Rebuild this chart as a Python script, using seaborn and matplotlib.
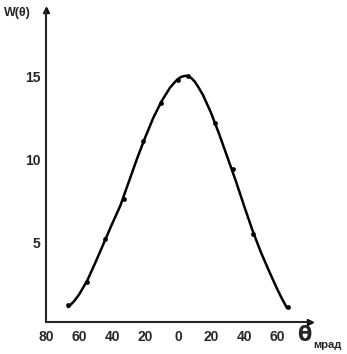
import numpy as np
import pandas as pd
import matplotlib
matplotlib.use("Agg")
import matplotlib.pyplot as plt
import seaborn as sns

# measured points (angle in mrad, W)
theta_pts = [-66.5, -55, -44, -33, -21, -10.5, 0, 6, 22.5, 33.5, 45.5, 66.5]
w_pts = [1.2, 2.6, 5.2, 7.6, 11.1, 13.4, 14.8, 15.0, 12.2, 9.4, 5.5, 1.1]

# smooth curve
theta_curve = [-66.5, -63, -60, -55, -50, -45, -40, -35, -30, -25, -20, -15,
               -10, -5, -2, 0, 2, 4, 6, 8, 10, 12, 15, 20, 25, 30, 35, 40,
               45, 50, 55, 60, 63, 66]
w_curve = [1.1, 1.45, 1.85, 2.7, 3.8, 4.95, 6.1, 7.2, 8.6, 10.0, 11.3, 12.5,
           13.5, 14.3, 14.65, 14.85, 14.97, 15.03, 15.02, 14.9, 14.7, 14.4,
           13.9, 12.8, 11.5, 10.1, 8.7, 7.2, 5.75, 4.45, 3.3, 2.2, 1.6, 1.05]

xtick_pos = [-80, -60, -40, -20, 0, 20, 40, 60]
xtick_lbl = ["80", "60", "40", "20", "0", "20", "40", "60"]
ytick_pos = [5, 10, 15]

sns.set_style("white")
plt.rcParams['font.family'] = ['Liberation Sans', 'DejaVu Sans']

fig = plt.figure(figsize=(3.47, 3.54), dpi=100)
ax = fig.add_axes([0.1326, 0.0904, 0.761, 0.8814])

df_curve = pd.DataFrame({"theta": theta_curve, "w": w_curve})
df_pts = pd.DataFrame({"theta": theta_pts, "w": w_pts})
sns.lineplot(data=df_curve, x="theta", y="w", color="black", lw=1.8, ax=ax, sort=False)
sns.scatterplot(data=df_pts, x="theta", y="w", color="black", s=10, ax=ax,
                edgecolor="black", zorder=3)

ax.set_xlim(-80, 80)
ax.set_ylim(0.2, 19)
sns.despine(ax=ax)
for s in ["left", "bottom"]:
    ax.spines[s].set_linewidth(1.5)
# arrow heads on the axes
ax.plot(1, 0, ">k", ms=4, transform=ax.transAxes, clip_on=False)
ax.plot(0, 1, "^k", ms=4, transform=ax.transAxes, clip_on=False)

ax.set_xticks(xtick_pos)
ax.set_xticklabels(xtick_lbl)
ax.set_yticks(ytick_pos)
ax.tick_params(axis="x", direction="inout", length=4, width=1, pad=4,
               labelsize=10)
ax.tick_params(axis="y", direction="out", length=3, width=1, pad=1,
               labelsize=10)
for t in ax.get_xticklabels() + ax.get_yticklabels():
    t.set_fontweight("bold")
ax.set_xlabel("")
ax.set_ylabel("")

fig.text(0.012, 0.962, "W(θ)", fontsize=9, fontweight="bold", ha="left", va="center")
fig.text(0.855, 0.055, "θ", fontsize=15, fontweight="bold", ha="left", va="center",
         family=["DejaVu Sans"])
fig.text(0.903, 0.026, "мрад", fontsize=8, fontweight="bold", ha="left", va="center")

fig.savefig("out.png", dpi=100)
